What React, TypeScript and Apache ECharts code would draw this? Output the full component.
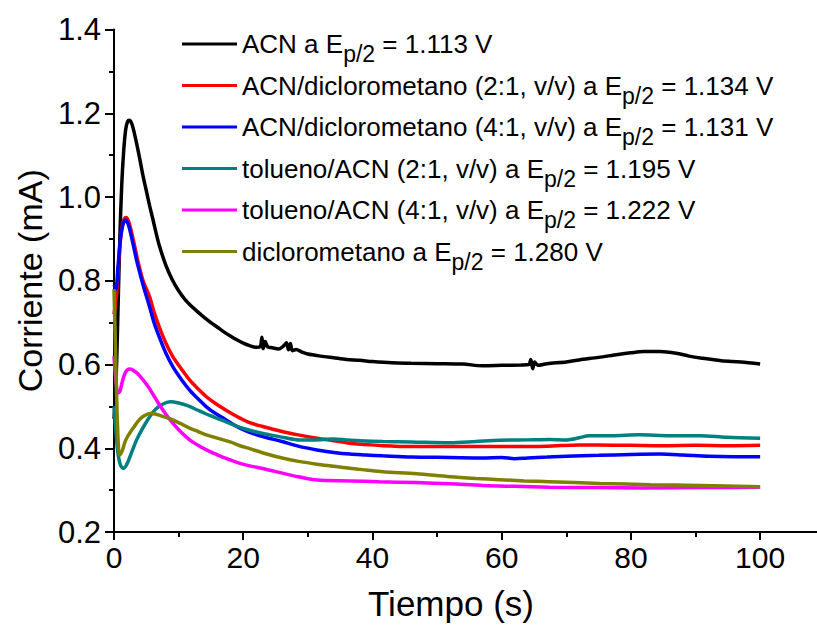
import React, { useEffect, useRef } from "react";
import * as echarts from "echarts";

const FONT = "'Liberation Sans', Arial, sans-serif";

const legendMain = [
  "ACN a E",
  "ACN/diclorometano (2:1, v/v) a E",
  "ACN/diclorometano (4:1, v/v) a E",
  "tolueno/ACN (2:1, v/v) a E",
  "tolueno/ACN (4:1, v/v) a E",
  "diclorometano a E",
];
const potentials = ["1.113", "1.134", "1.131", "1.195", "1.222", "1.280"];
const colors = ["#000000", "#ff0000", "#0000ff", "#008080", "#ff00ff", "#808000"];

const xMajorTicks = [0, 20, 40, 60, 80, 100];
const xMinorTicks = [10, 30, 50, 70, 90];

const acn: [number, number][] = [
  [0, 0.47], [0.3, 0.55], [0.6, 0.72], [0.9, 0.9], [1.2, 1.03], [1.5, 1.11], [1.8, 1.16], [2.1, 1.18], [2.4, 1.183],
  [2.7, 1.177], [3.0, 1.162], [3.5, 1.128], [4.0, 1.09], [4.5, 1.05], [5.0, 1.015], [5.5, 0.98], [6, 0.948], [6.5, 0.915],
  [7, 0.885], [8, 0.838], [9, 0.803], [10, 0.776], [11, 0.755], [12, 0.739], [13, 0.725], [14, 0.712], [15, 0.7],
  [16, 0.689], [17, 0.678], [18, 0.668], [19, 0.659], [20, 0.651], [21, 0.645], [22, 0.641], [22.6, 0.642], [22.9, 0.665],
  [23.1, 0.638], [23.4, 0.655], [23.8, 0.642], [24.5, 0.64], [25.5, 0.637], [26.3, 0.645], [26.7, 0.652], [27.0, 0.635],
  [27.3, 0.65], [27.6, 0.633], [28.2, 0.636], [29, 0.63], [30, 0.625], [32, 0.62], [34, 0.616], [36, 0.612], [38, 0.61],
  [40, 0.607], [43, 0.604], [46, 0.603], [50, 0.602], [54, 0.601], [57, 0.597], [60, 0.598], [63, 0.599], [64.2, 0.6],
  [64.5, 0.612], [64.8, 0.59], [65.1, 0.606], [65.6, 0.598], [67, 0.602], [70, 0.606], [72, 0.611], [75, 0.617],
  [78, 0.624], [80, 0.628], [82, 0.631], [84.5, 0.631], [87, 0.627], [89, 0.62], [91, 0.615], [94, 0.609], [97, 0.606],
  [100, 0.601],
];

const acnDcm21: [number, number][] = [
  [0, 0.72], [0.4, 0.77], [0.8, 0.86], [1.2, 0.925], [1.6, 0.948], [1.9, 0.951], [2.3, 0.94], [2.8, 0.91], [3.3, 0.875],
  [3.8, 0.84], [4.5, 0.8], [5.5, 0.762], [6.2, 0.725], [7, 0.69], [8, 0.652], [9.1, 0.619], [10.4, 0.59], [11.7, 0.563],
  [13, 0.542], [14.3, 0.523], [15.6, 0.508], [16.9, 0.495], [18.2, 0.483], [19.5, 0.472], [21, 0.461], [23, 0.452],
  [26, 0.44], [28.5, 0.432], [31.4, 0.424], [34, 0.418], [36.5, 0.412], [39, 0.409], [41.6, 0.406], [46, 0.404],
  [52, 0.404], [60, 0.404], [67, 0.405], [72, 0.408], [75, 0.408], [80, 0.407], [85, 0.406], [90, 0.407], [95, 0.406],
  [100, 0.407],
];

const acnDcm41: [number, number][] = [
  [0, 0.79], [0.3, 0.78], [0.6, 0.83], [1.0, 0.9], [1.4, 0.935], [1.8, 0.945], [2.2, 0.935], [2.7, 0.905], [3.2, 0.87],
  [3.6, 0.842], [4.5, 0.79], [5.5, 0.738], [6.2, 0.7], [7, 0.666], [8, 0.628], [9.1, 0.595], [10.4, 0.565], [11.7, 0.539],
  [13, 0.518], [14.3, 0.499], [15.6, 0.484], [16.9, 0.472], [18.2, 0.459], [19.5, 0.448], [21, 0.438], [23, 0.428],
  [26, 0.416], [28.5, 0.405], [31.4, 0.396], [34, 0.39], [36.5, 0.386], [39, 0.384], [41.6, 0.382], [46, 0.379],
  [52, 0.378], [57, 0.377], [60, 0.378], [62, 0.375], [64, 0.377], [67, 0.379], [70, 0.381], [75, 0.383], [80, 0.385],
  [84.5, 0.386], [88, 0.384], [92, 0.381], [96, 0.38], [100, 0.38],
];

const tolAcn21: [number, number][] = [
  [0, 0.5], [0.3, 0.44], [0.6, 0.39], [1.0, 0.36], [1.45, 0.352], [2.0, 0.362], [2.7, 0.389], [3.5, 0.42], [4.3, 0.444],
  [5.3, 0.47], [6.3, 0.491], [7.5, 0.505], [8.7, 0.511], [10, 0.508], [11.5, 0.501], [12.8, 0.492], [14.1, 0.483],
  [15.4, 0.475], [16.7, 0.467], [18, 0.459], [19.3, 0.451], [21, 0.443], [22.5, 0.437], [24.1, 0.432], [26.5, 0.425],
  [28.7, 0.42], [31, 0.42], [33.9, 0.422], [36, 0.42], [38, 0.418], [41.6, 0.416], [46, 0.415], [52, 0.413],
  [56, 0.416], [59.7, 0.419], [64, 0.42], [67.4, 0.421], [70, 0.42], [72, 0.425], [73.5, 0.43], [77, 0.43],
  [81.3, 0.432], [86, 0.43], [90.7, 0.43], [94.8, 0.426], [100, 0.424],
];

const tolAcn41: [number, number][] = [
  [0, 0.62], [0.3, 0.56], [0.6, 0.532], [0.9, 0.535], [1.3, 0.56], [1.8, 0.582], [2.4, 0.589], [3.0, 0.586],
  [3.6, 0.579], [4.4, 0.565], [5.3, 0.547], [6.1, 0.527], [6.9, 0.507], [8, 0.482], [9.1, 0.46], [10.4, 0.438],
  [11.7, 0.42], [13, 0.407], [14.3, 0.396], [15.6, 0.387], [16.9, 0.378], [18.2, 0.371], [19.5, 0.364], [21, 0.358],
  [23.5, 0.35], [26.2, 0.34], [28.5, 0.332], [31.4, 0.324], [36.5, 0.322], [41, 0.32], [46.8, 0.318], [52, 0.315],
  [57.1, 0.311], [62, 0.309], [67.4, 0.307], [75, 0.306], [82, 0.305], [90.7, 0.306], [100, 0.307],
];

const dcm: [number, number][] = [
  [0, 0.78], [0.2, 0.66], [0.45, 0.5], [0.7, 0.4], [0.9, 0.384], [1.3, 0.395], [1.7, 0.415], [2.1, 0.428], [2.6, 0.44],
  [3.1, 0.451], [3.8, 0.466], [4.6, 0.477], [5.6, 0.483], [6.4, 0.482], [7.2, 0.478], [8.9, 0.469], [10.3, 0.459],
  [11.7, 0.448], [13, 0.44], [14.3, 0.432], [15.6, 0.426], [16.9, 0.42], [18.2, 0.414], [19.5, 0.406], [21, 0.399],
  [23.5, 0.387], [26.2, 0.376], [28.8, 0.368], [31.4, 0.362], [34, 0.357], [36.5, 0.352], [39, 0.348], [41.6, 0.344],
  [46.8, 0.339], [52, 0.332], [56, 0.328], [59.7, 0.325], [63.5, 0.322], [67.4, 0.32], [75.2, 0.316], [83, 0.313],
  [90.7, 0.311], [100, 0.308],
];

const seriesData = [acn, acnDcm21, acnDcm41, tolAcn21, tolAcn41, dcm];
const seriesNames = legendMain.map((m, i) => `${m}p/2 = ${potentials[i]} V`);

export default function App() {
  const ref = useRef<HTMLDivElement>(null);
  useEffect(() => {
    if (!ref.current) return;
    const chart = echarts.init(ref.current, undefined, { renderer: "svg" });
    const axisColor = "#000";
    chart.setOption({
      animation: false,
      backgroundColor: "#fff",
      grid: { left: 114, top: 29.5, right: 0, bottom: 94, containLabel: false },
      legend: {
        orient: "vertical",
        left: 182,
        top: 31,
        padding: 0,
        itemGap: 7,
        itemWidth: 55,
        itemHeight: 3,
        icon: "rect",
        data: seriesNames,
        selectedMode: false,
        formatter: (name: string) => {
          const i = seriesNames.indexOf(name);
          return `{m|${legendMain[i]}}{s|p/2}{m| = ${potentials[i]} V}`;
        },
        textStyle: {
          fontFamily: FONT,
          color: "#000",
          rich: {
            m: { fontFamily: FONT, fontSize: 26, color: "#000", verticalAlign: "middle" },
            s: { fontFamily: FONT, fontSize: 23, color: "#000", verticalAlign: "middle", padding: [10, 0, -10, 0] },
          },
        },
      },
      xAxis: [
        {
          type: "value",
          min: 0,
          max: 108.8,
          interval: 20,
          name: "Tiempo (s)",
          nameLocation: "middle",
          nameGap: 54,
          nameTextStyle: { fontFamily: FONT, fontSize: 35, color: "#000", padding: [0, 29, 0, 0] },
          axisLine: { show: true, onZero: false, lineStyle: { color: axisColor, width: 2 } },
          axisTick: { show: true, length: 8, inside: false, lineStyle: { color: axisColor, width: 2 }, customValues: xMajorTicks },
          axisLabel: { fontFamily: FONT, fontSize: 30, color: "#000", margin: 10, customValues: xMajorTicks },
          splitLine: { show: false },
        },
        {
          type: "value",
          min: 0,
          max: 108.8,
          position: "bottom",
          axisLine: { show: false },
          axisTick: { show: true, length: 5, inside: false, lineStyle: { color: axisColor, width: 2 }, customValues: xMinorTicks },
          axisLabel: { show: false },
          splitLine: { show: false },
        },
      ],
      yAxis: {
        type: "value",
        min: 0.2,
        max: 1.4,
        interval: 0.2,
        name: "Corriente (mA)",
        nameLocation: "middle",
        nameGap: 59,
        nameTextStyle: { fontFamily: FONT, fontSize: 34, color: "#000" },
        axisLine: { show: true, onZero: false, lineStyle: { color: axisColor, width: 2 } },
        axisTick: { show: true, length: 9, inside: false, lineStyle: { color: axisColor, width: 2 } },
        minorTick: { show: true, splitNumber: 2, length: 5, lineStyle: { color: axisColor, width: 2 } },
        axisLabel: {
          fontFamily: FONT,
          fontSize: 31,
          color: "#000",
          margin: 13,
          formatter: (v: number) => v.toFixed(1),
        },
        splitLine: { show: false },
      },
      series: seriesData.map((d, i) => ({
        name: seriesNames[i],
        type: "line",
        data: d,
        showSymbol: false,
        symbol: "none",
        smooth: 0.3,
        lineStyle: { color: colors[i], width: 3.5 },
        itemStyle: { color: colors[i] },
        z: 2 + i,
      })),
    });
    return () => chart.dispose();
  }, []);
  return (
    <div
      ref={ref}
      style={{ position: "fixed", left: 0, top: 0, width: 817, height: 626, background: "#fff" }}
    />
  );
}
